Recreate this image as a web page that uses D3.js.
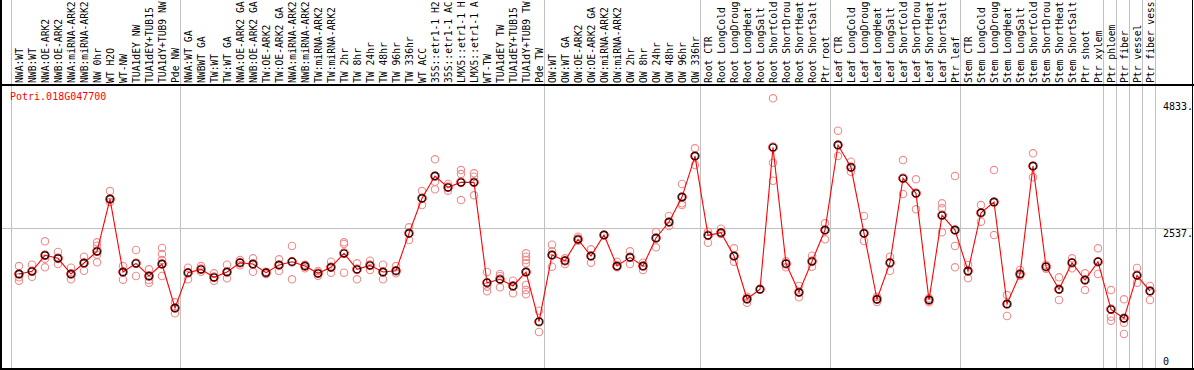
<!DOCTYPE html>
<html>
<head>
<meta charset="utf-8">
<script src="https://cdn.jsdelivr.net/npm/d3@7"></script>
<style>
  body { margin: 0; background: #fff; }
  svg { display: block; }
  text { font-family: "DejaVu Sans Mono", monospace; font-size: 10px; }
</style>
</head>
<body>
<div id="vis"></div>
<script>
// set constants
const FRAME_WIDTH = 1194;
const FRAME_HEIGHT = 370;
const LABEL_BOTTOM = 85;     // black line under the sample names
const PLOT_BOTTOM = 369;
const Y_TOP = 101;
const MAX_CHARS = 14;        // names longer than this are cut, like the original

const GENE = "Potri.018G047700";

// sample names
const samples = [
  "NWA:WT", "NWB:WT", "NWA:OE-ARK2", "NWB:OE-ARK2", "NWA:miRNA-ARK2", "NWB:miRNA-ARK2",
  "NW 0hr", "WT H2O", "WT-NW", "TUA1dEY NW", "TUA1dEY+TUB15 NW", "TUA1dY+TUB9 NW", "Pde NW",
  "NWA:WT GA", "NWBWT GA", "TW:WT", "TW:WT GA", "NWA:OE-ARK2 GA", "NWB:OE-ARK2 GA",
  "TW:OE-ARK2", "TW:OE-ARK2 GA", "NWA:miRNA-ARK2 GA", "NWB:miRNA-ARK2 GA", "TW:miRNA-ARK2",
  "TW:miRNA-ARK2 GA", "TW 2hr", "TW 8hr", "TW 24hr", "TW 48hr", "TW 96hr", "TW 336hr",
  "WT ACC", "35S::etr1-1 H2O", "35S::etr1-1 ACC", "LMX5::etr1-1 H2O", "LMX5::etr1-1 ACC",
  "WT-TW", "TUA1dEY TW", "TUA1dEY+TUB15 TW", "TUA1dY+TUB9 TW", "Pde TW",
  "OW:WT", "OW:WT GA", "OW:OE-ARK2", "OW:OE-ARK2 GA", "OW:miRNA-ARK2", "OW:miRNA-ARK2 GA",
  "OW 2hr", "OW 8hr", "OW 24hr", "OW 48hr", "OW 96hr", "OW 336hr",
  "Root CTR", "Root LongCold", "Root LongDrought", "Root LongHeat", "Root LongSalt",
  "Root ShortCold", "Root ShortDrought", "Root ShortHeat", "Root ShortSalt", "Ptr root",
  "Leaf CTR", "Leaf LongCold", "Leaf LongDrought", "Leaf LongHeat", "Leaf LongSalt",
  "Leaf ShortCold", "Leaf ShortDrought", "Leaf ShortHeat", "Leaf ShortSalt", "Ptr leaf",
  "Stem CTR", "Stem LongCold", "Stem LongDrought", "Stem LongHeat", "Stem LongSalt",
  "Stem ShortCold", "Stem ShortDrought", "Stem ShortHeat", "Stem ShortSalt", "Ptr shoot",
  "Ptr xylem", "Ptr phloem", "Ptr fiber", "Ptr vessel", "Ptr fiber vessel"
];

// index of the first sample of each group, last entry closes the table
const groupStarts = [0, 13, 41, 53, 63, 73, 84, 85, 86, 87, 88];

// mean expression per sample
const means = [
  1713, 1761, 2050, 1996, 1713, 1911, 2122, 3065, 1749, 1905, 1677, 1893, 1100,
  1737, 1797, 1653, 1749, 1917, 1893, 1737, 1875, 1935, 1857, 1725, 1834, 2086,
  1797, 1869, 1749, 1772, 2447, 3078, 3480, 3276, 3366, 3366, 1556, 1617, 1497,
  1749, 853,
  2055, 1953, 2338, 2037, 2416, 1857, 2014, 1857, 2362, 2650, 3101, 3840,
  2410, 2458, 2037, 1262, 1437, 3997, 1899, 1383, 1941, 2506,
  4039, 3637, 2447, 1257, 1917, 3438, 3168, 1244, 2771, 2506,
  1767, 2818, 3011, 1172, 1713, 3660, 1845, 1437, 1917, 1605, 1935,
  1076, 914, 1689, 1406
];

// replicate values per sample
const replicates = [
  [1857, 1653, 1592], [1881, 1664], [2302, 1989, 1834], [2110, 1893], [1827, 1617],
  [2025, 1772], [2284, 2223, 2061, 1924], [3209, 3011], [1857, 1610], [2146, 1677],
  [1797, 1605, 1556], [2182, 2073, 1965, 1677], [1202, 1004],
  [1827, 1617], [1857, 1754], [1725, 1592], [1881, 1635], [1965, 1869], [1996, 1754],
  [1754, 1713], [1978, 1767], [2218, 1617], [1881, 1815], [1767, 1682], [1935, 1737],
  [2284, 2254, 1737], [1905, 1617], [1953, 1785], [1881, 1617], [1857, 1725],
  [2555, 2326], [3209, 2957], [3781, 3377, 3240], [3336, 3215], [3588, 3516, 3047],
  [3528, 3467, 3132], [1749, 1484, 1401], [1713, 1677, 1473], [1592, 1365],
  [2086, 2025, 1965, 1905, 1515, 1424, 1347], [1051, 667],
  [2241, 2122, 1845], [1996, 1893], [2386, 2314], [2158, 1917], [], [1935, 1834],
  [2122, 1893], [1917, 1785], [2470, 2194], [2759, 2578], [3336, 2988, 2957], [3979, 3678],
  [2476, 2278], [2530, 2434], [2176, 1935], [1304, 1196], [], [4881, 3720, 3395],
  [1941, 1834], [1497, 1293], [2043, 1845], [2627, 2338],
  [4297, 3840], [3738, 3557], [2759, 2308], [1304, 1208], [2025, 1772], [3768, 3155],
  [3420, 2879], [1275, 1202], [2988, 2897, 2465], [3480, 2218, 1834],
  [1875, 1635], [2957, 2656], [3588, 2416], [1334, 956], [1785, 1677], [3889, 3456],
  [1881, 1809], [1653, 1244], [1996, 1815], [1725, 1424], [2176, 1713],
  [1424, 943, 871], [1257, 835, 631], [1821, 1556], [1497, 1244]
];

const Y_MAX = 4833;
const Y_GRID = 2537;
const yTicks = [Y_MAX, Y_GRID, 0];

// scales
const X_SCALE = d3.scaleBand()
                  .domain(d3.range(samples.length))
                  .range([11, 11 + 13 * samples.length]);
const X_OFFSET = 8;   // dot sits 8px into its column

const Y_SCALE = d3.scaleLinear()
                  .domain([0, Y_MAX])
                  .range([PLOT_BOTTOM, Y_TOP]);

const px = (i) => X_SCALE(i) + X_OFFSET;
const colStart = (i) => i < samples.length ? X_SCALE(i) : X_SCALE(i - 1) + X_SCALE.bandwidth();

// make svg frame
const FRAME = d3.select("#vis")
                .append("svg")
                  .attr("width", FRAME_WIDTH)
                  .attr("height", FRAME_HEIGHT);

// grey column separators (full height)
FRAME.selectAll(".sep")
      .data(groupStarts)
      .enter()
      .append("line")
        .attr("x1", (d) => colStart(d))
        .attr("x2", (d) => colStart(d))
        .attr("y1", 0)
        .attr("y2", PLOT_BOTTOM)
        .attr("stroke", "#c0c0c0")
        .attr("shape-rendering", "crispEdges");

// horizontal grid line at the middle value
FRAME.append("line")
      .attr("x1", 1)
      .attr("x2", FRAME_WIDTH - 1)
      .attr("y1", Y_SCALE(Y_GRID))
      .attr("y2", Y_SCALE(Y_GRID))
      .attr("stroke", "#c0c0c0")
      .attr("shape-rendering", "crispEdges");

// black frame lines
const frameLines = [
  [1, 0, 1, PLOT_BOTTOM],
  [FRAME_WIDTH - 1.5, 0, FRAME_WIDTH - 1.5, PLOT_BOTTOM],
  [0, LABEL_BOTTOM, FRAME_WIDTH, LABEL_BOTTOM],
  [0, PLOT_BOTTOM, FRAME_WIDTH, PLOT_BOTTOM]
];
FRAME.selectAll(".frameline")
      .data(frameLines)
      .enter()
      .append("line")
        .attr("x1", (d) => d[0])
        .attr("y1", (d) => d[1])
        .attr("x2", (d) => d[2])
        .attr("y2", (d) => d[3])
        .attr("stroke", "#000")
        .attr("stroke-width", 1.5)
        .attr("shape-rendering", "crispEdges");

// sample names, rotated and cut to the room above the line
FRAME.selectAll(".sample")
      .data(samples)
      .enter()
      .append("text")
        .attr("transform", (d, i) => "translate(" + (px(i) + 3.5) + "," + (LABEL_BOTTOM - 2) + ") rotate(-90)")
        .attr("fill", "#000")
        .style("font-size", "9.7px")
        .text((d) => d.slice(0, MAX_CHARS));

// gene name
FRAME.append("text")
      .attr("x", 10)
      .attr("y", 100)
      .attr("fill", "#ff0000")
      .text(GENE);

// y labels on the right
FRAME.selectAll(".ylab")
      .data(yTicks)
      .enter()
      .append("text")
        .attr("x", 1163)
        .attr("y", (d) => d === 0 ? PLOT_BOTTOM - 4 : Y_SCALE(d) + 9)
        .attr("fill", "#000")
        .text((d) => d === 0 ? "0" : d + ".");

// replicate circles
const repPoints = [];
replicates.forEach((arr, i) => arr.forEach((v) => repPoints.push({i: i, v: v})));

FRAME.selectAll(".rep")
      .data(repPoints)
      .enter()
      .append("circle")
        .attr("cx", (d) => px(d.i))
        .attr("cy", (d) => Y_SCALE(d.v))
        .attr("r", 3.7)
        .attr("fill", "none")
        .attr("stroke", "#f08c8c")
        .attr("stroke-width", 1.1);

// mean line
FRAME.append("path")
      .datum(means)
      .attr("d", d3.line()
                  .x((d, i) => px(i))
                  .y((d) => Y_SCALE(d)))
      .attr("fill", "none")
      .attr("stroke", "#ff0000")
      .attr("stroke-width", 1.1);

// mean markers
FRAME.selectAll(".meanout")
      .data(means)
      .enter()
      .append("circle")
        .attr("cx", (d, i) => px(i))
        .attr("cy", (d) => Y_SCALE(d))
        .attr("r", 4.3)
        .attr("fill", "none")
        .attr("stroke", "#ff0000")
        .attr("stroke-width", 1);

FRAME.selectAll(".meanin")
      .data(means)
      .enter()
      .append("circle")
        .attr("cx", (d, i) => px(i))
        .attr("cy", (d) => Y_SCALE(d))
        .attr("r", 3.4)
        .attr("fill", "none")
        .attr("stroke", "#000")
        .attr("stroke-width", 1.1);
</script>
</body>
</html>
